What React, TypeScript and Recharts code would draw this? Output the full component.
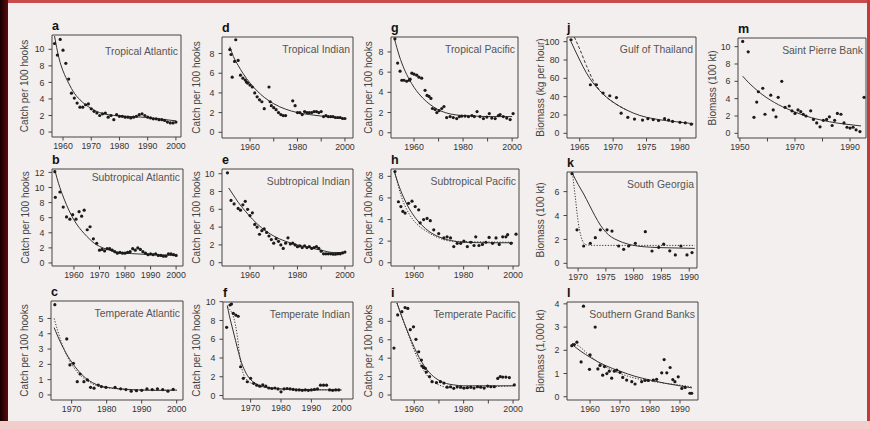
import React from 'react';
import { ComposedChart, Scatter, Line, XAxis, YAxis, ReferenceArea, Label } from 'recharts';

const FONT = '"Liberation Sans", Arial, Helvetica, sans-serif';

// ---------- data: [year, value] ----------
const tropAtlPts = [[1957,10.7],[1958,9.3],[1959,11.2],[1960,9.9],[1961,8.3],[1962,6.4],[1963,4.7],[1964,4.1],[1965,3.5],[1966,3.0],[1967,3.0],[1968,3.3],[1969,3.4],[1970,2.8],[1971,2.5],[1972,2.3],[1973,2.0],[1974,2.2],[1975,2.3],[1976,1.8],[1977,2.0],[1978,1.5],[1979,2.1],[1980,1.9],[1981,1.9],[1982,1.8],[1983,1.8],[1984,1.7],[1985,1.8],[1986,1.9],[1987,2.1],[1988,2.2],[1989,2.0],[1990,1.8],[1991,1.7],[1992,1.6],[1993,1.6],[1994,1.5],[1995,1.5],[1996,1.4],[1997,1.2],[1998,1.1],[1999,1.1],[2000,1.2]];
const tropAtlFit = [[1957,11.6],[1958,9.8],[1959,8.4],[1960,7.4],[1961,6.6],[1962,5.9],[1964,4.7],[1966,3.9],[1968,3.3],[1970,2.85],[1973,2.35],[1976,2.1],[1980,1.95],[1985,1.85],[1990,1.75],[1995,1.55],[2000,1.35]];

const tropIndPts = [[1951.5,8.4],[1952,7.9],[1952.5,5.6],[1953.5,7.2],[1954,9.4],[1955,7.3],[1956,5.8],[1957,5.5],[1958,5.3],[1958.5,5.1],[1959,5.0],[1960,4.8],[1961,4.6],[1962,4.0],[1963,3.6],[1964,3.3],[1965,3.1],[1966,2.4],[1968,4.6],[1968.5,3.1],[1969,2.7],[1970,2.5],[1971,2.3],[1972,2.0],[1973,1.8],[1974,1.7],[1975,1.7],[1978,3.2],[1979,2.7],[1980,2.0],[1981,2.0],[1982,1.8],[1983,2.1],[1984,2.0],[1985,2.0],[1986,2.0],[1987,2.1],[1988,2.1],[1989,2.0],[1990,2.1],[1991,1.6],[1992,1.7],[1993,1.6],[1994,1.6],[1995,1.6],[1996,1.5],[1997,1.5],[1998,1.5],[1999,1.4],[2000,1.4]];
const tropIndFit = [[1951.5,8.7],[1953,7.7],[1955,6.8],[1957,6.0],[1960,5.0],[1963,4.2],[1966,3.55],[1970,2.9],[1975,2.35],[1980,2.0],[1985,1.8],[1990,1.65],[1995,1.5],[2000,1.4]];

const tropPacPts = [[1952.2,9.3],[1953.3,6.9],[1954.3,6.1],[1955,5.2],[1955.9,5.2],[1957,5.1],[1958,5.2],[1958.4,5.3],[1959.1,5.9],[1960,5.8],[1961.1,5.7],[1962,5.5],[1963.1,5.4],[1964.5,4.2],[1965.3,3.7],[1966.1,3.6],[1966.9,3.4],[1967.5,2.4],[1968.6,2.3],[1969.3,2.0],[1970.2,2.2],[1971.3,2.4],[1972.2,2.6],[1973.3,1.5],[1974.7,1.6],[1976,1.5],[1977.4,1.4],[1978.5,1.6],[1979.5,1.65],[1980.8,1.65],[1982.2,1.6],[1983.6,1.7],[1984.6,1.6],[1985.7,2.1],[1986.9,1.6],[1988.3,1.4],[1989.7,1.55],[1990.7,1.9],[1991.7,1.45],[1993.1,1.4],[1994.4,1.7],[1995.1,1.8],[1996.4,1.6],[1997.8,1.45],[1999.2,1.3],[2000.4,1.9]];
const tropPacFit = [[1952,9.3],[1954,7.6],[1956,6.3],[1958,5.3],[1960,4.5],[1962,3.85],[1965,3.1],[1968,2.55],[1971,2.15],[1975,1.85],[1980,1.7],[1985,1.65],[1990,1.6],[2000,1.6]];

const gulfThaiPts = [[1963.7,102],[1966.6,53],[1967.5,53],[1968.5,44],[1969.5,41],[1970.5,39],[1971.2,22],[1972.2,17.5],[1973.2,15.5],[1974.4,14.5],[1975.2,16],[1976,15],[1976.8,14],[1977.7,16],[1978.3,14.5],[1978.9,13],[1980,12],[1980.8,11.5],[1981.7,10]];
const gulfThaiFit = [[1963.7,100],[1965,80],[1966,66],[1967,55],[1968,46.5],[1969,39.5],[1970,34],[1972,25.5],[1974,19.5],[1976,16],[1978,13.8],[1980,12.2],[1982,10.5]];
const gulfThaiFit2 = [[1964.2,105],[1965,92],[1966,74],[1967,58],[1968,47],[1969,39.5],[1970,34],[1972,25.5]];

const stPierrePts = [[1951,10.6],[1953,9.4],[1955.1,1.85],[1956.1,3.6],[1956.7,4.8],[1958.3,5.2],[1959.1,2.2],[1961.2,4.4],[1962.1,2.7],[1963.1,1.9],[1963.9,4.15],[1965.2,6.0],[1966.4,3.0],[1967.9,3.15],[1968.9,2.6],[1970,2.3],[1971.1,2.7],[1972.1,2.5],[1973,2.2],[1974,2.0],[1975.7,2.6],[1976.7,1.6],[1977.9,1.2],[1979.1,0.75],[1980.3,1.5],[1981.5,1.6],[1982.5,1.9],[1983.5,0.9],[1984.4,1.5],[1985.4,2.3],[1986.7,2.2],[1987.8,1.2],[1988.9,0.7],[1990,0.6],[1991.1,0.7],[1992.2,0.4],[1993.6,0.2],[1995.1,4.15]];
const stPierreFit = [[1951,6.6],[1953,5.9],[1955,5.3],[1958,4.5],[1961,3.85],[1964,3.3],[1967,2.85],[1970,2.45],[1973,2.1],[1976,1.8],[1980,1.5],[1985,1.2],[1990,1.0],[1994,0.85]];

const subAtlPts = [[1952.5,12.1],[1952.7,8.7],[1954.5,9.4],[1955.8,7.4],[1957.1,6.1],[1958.4,5.8],[1959.5,6.4],[1960.8,5.8],[1962,6.8],[1963,6.2],[1964,7.0],[1965.2,4.4],[1966.3,4.8],[1967.6,3.2],[1968.9,2.6],[1970,1.7],[1971,1.8],[1972,1.6],[1973,1.9],[1974,1.9],[1975,1.7],[1976,1.5],[1977,1.3],[1978,1.4],[1979,1.3],[1980,1.3],[1981,1.4],[1982,1.5],[1983,1.9],[1984,1.7],[1985,2.0],[1986,1.8],[1987,1.5],[1988,1.3],[1989,1.1],[1990,1.2],[1991,1.1],[1992,1.2],[1993,1.0],[1994,1.0],[1995,0.9],[1996,0.9],[1997,1.2],[1998,1.2],[1999,1.1],[2000,1.0]];
const subAtlFit = [[1952.5,12.3],[1954,10.5],[1956,8.6],[1958,7.0],[1960,5.7],[1962,4.7],[1964,3.9],[1966,3.2],[1968,2.6],[1970,2.2],[1973,1.8],[1976,1.5],[1980,1.3],[1985,1.2],[1990,1.1],[1995,1.05],[2000,1.0]];

const subIndPts = [[1950.5,10.1],[1952,7.0],[1953.3,6.6],[1955,6.1],[1956,5.9],[1957,6.5],[1958,6.9],[1959,6.0],[1960,5.3],[1961,5.6],[1962,4.3],[1963,4.0],[1964,3.2],[1965,3.6],[1966,3.8],[1967,3.4],[1968,3.0],[1969,2.6],[1970,2.2],[1971,2.7],[1972,2.4],[1973,2.0],[1974,1.6],[1975,2.2],[1976,2.8],[1977,2.1],[1978,2.2],[1979,2.0],[1980,1.8],[1981,1.9],[1982,1.7],[1983,1.9],[1984,1.7],[1985,1.8],[1986,1.6],[1987,1.7],[1988,1.8],[1989,1.6],[1990,1.3],[1991,1.0],[1992,1.0],[1993,1.0],[1994,1.0],[1995,0.95],[1996,0.95],[1997,1.0],[1998,1.0],[1999,1.1],[2000,1.2]];
const subIndFit = [[1951,8.4],[1953,7.6],[1955,6.8],[1958,5.8],[1961,4.9],[1965,3.9],[1970,3.0],[1975,2.4],[1980,2.0],[1985,1.7],[1990,1.4],[1995,1.15],[2000,1.15]];

const subPacPts = [[1952.2,8.45],[1953.6,5.65],[1954.6,5.2],[1955.4,4.75],[1956.3,4.6],[1957.7,5.5],[1959.1,5.7],[1960.4,5.2],[1961.8,4.9],[1962.4,3.7],[1963.8,4.0],[1965.2,4.1],[1966.5,3.9],[1967.9,3.05],[1969.9,2.7],[1972,2.3],[1973.3,2.4],[1974.7,2.3],[1976,1.5],[1977.4,1.8],[1978.8,1.8],[1980.1,2.0],[1981.5,1.5],[1982.9,1.9],[1984.2,1.6],[1984.9,2.4],[1986.2,1.6],[1987.6,1.7],[1989,1.9],[1990.3,2.35],[1991.7,1.8],[1993.1,2.3],[1994.4,1.7],[1995.8,2.4],[1997.1,2.4],[1997.8,2.6],[1999.2,1.8],[2001.2,2.65]];
const subPacFit = [[1952,8.4],[1954,7.0],[1956,5.9],[1958,5.0],[1960,4.3],[1963,3.5],[1966,2.9],[1970,2.4],[1975,2.05],[1980,1.9],[1990,1.85],[2000,1.85]];
const subPacFit2 = [[1952,8.5],[1955,6.0],[1958,4.5],[1961,3.6],[1965,2.9],[1970,2.3],[1975,2.0],[2000,1.9]];

const sGeorgiaPts = [[1968.9,7.5],[1969.8,2.8],[1971,1.45],[1972.2,1.67],[1973.1,2.15],[1974,2.8],[1975.2,2.8],[1976.1,2.7],[1977.3,1.45],[1978.2,1.17],[1979.1,1.45],[1980.3,1.67],[1982.1,2.65],[1983.3,1.03],[1984.5,1.34],[1985.4,1.6],[1986.5,1.05],[1987.5,0.7],[1988.5,1.45],[1989.6,0.7],[1990.5,0.9]];
const sGeorgiaFit = [[1969,7.5],[1970,6.6],[1971,5.8],[1972,4.9],[1973,4.0],[1974,3.2],[1975,2.6],[1976,2.2],[1977,1.95],[1978,1.75],[1980,1.5],[1983,1.35],[1986,1.3],[1991,1.25]];
const sGeorgiaFit2 = [[1969,7.5],[1969.5,5.5],[1970,3.5],[1970.5,2.3],[1971,1.7],[1971.5,1.55],[1973,1.5],[1991,1.5]];

const tempAtlPts = [[1965.2,5.9],[1968.6,3.66],[1969.5,1.96],[1970.5,2.07],[1971.6,0.87],[1972.4,1.37],[1973.5,0.87],[1974.5,0.98],[1975.4,0.5],[1976.4,0.44],[1977.6,0.65],[1978.5,0.55],[1979.8,0.5],[1982.4,0.5],[1984,0.4],[1985.5,0.35],[1987,0.25],[1988.5,0.28],[1990,0.3],[1991.5,0.4],[1993,0.35],[1994.5,0.4],[1996,0.35],[1997.5,0.25],[1999,0.37]];
const tempAtlFit = [[1965,4.4],[1966,3.85],[1967,3.35],[1968,2.9],[1969,2.5],[1970,2.15],[1972,1.55],[1974,1.1],[1976,0.8],[1978,0.6],[1980,0.5],[1985,0.38],[1990,0.32],[1995,0.3],[2000,0.32]];
const tempAtlFit2 = [[1965,5.0],[1966,4.2],[1967,3.5],[1968,2.9],[1969,2.4],[1970,2.0],[1972,1.4],[1974,1.0],[1976,0.72],[1978,0.55],[1982,0.42],[1990,0.32],[2000,0.3]];

const tempIndPts = [[1962.1,7.27],[1963.2,9.65],[1963.7,9.75],[1964.3,8.76],[1965.1,8.58],[1965.9,8.45],[1966.7,3.07],[1967.6,1.83],[1968.9,1.47],[1970,1.83],[1971,1.3],[1972,1.1],[1973,1.0],[1974,1.15],[1975,1.0],[1976,0.8],[1977,0.75],[1978,0.8],[1979,0.7],[1980,0.4],[1981,0.7],[1982,0.75],[1983,0.7],[1984,0.65],[1985,0.6],[1986,0.6],[1987,0.55],[1988,0.6],[1989,0.55],[1990,0.6],[1991,0.65],[1992,0.7],[1993,1.1],[1994,1.1],[1995,1.1],[1996,0.6],[1997,0.55],[1998,0.6],[1999,0.6]];
const tempIndFit = [[1962.3,9.6],[1963,8.5],[1964,7.2],[1965,5.9],[1966,4.6],[1967,3.5],[1968,2.7],[1969,2.1],[1970,1.7],[1972,1.2],[1974,0.95],[1977,0.8],[1980,0.7],[1990,0.6],[2000,0.6]];
const tempIndFit2 = [[1962.3,9.4],[1963.5,9.0],[1964.5,8.2],[1965.5,6.6],[1966.5,4.0],[1967.5,2.4],[1969,1.6],[1971,1.2],[1974,0.9],[1980,0.7],[2000,0.6]];

const tempPacPts = [[1951.8,5.1],[1953.3,8.7],[1955,9.05],[1956.3,9.5],[1957.4,9.4],[1958.4,7.1],[1959.7,7.4],[1960.7,6.05],[1961.8,4.7],[1962.9,3.8],[1963.1,3.15],[1963.8,3.0],[1964.5,2.9],[1964.9,2.5],[1966.2,2.0],[1967.2,1.45],[1969,1.35],[1970.6,1.45],[1972,1.3],[1973.3,0.85],[1974.7,0.9],[1976,0.73],[1977.4,0.9],[1978.8,0.85],[1980.1,0.75],[1981.5,0.8],[1982.9,0.85],[1984.2,0.75],[1985.6,0.9],[1986.9,0.85],[1988.3,0.75],[1989.7,0.98],[1991,0.9],[1992.4,0.9],[1993.8,1.8],[1994.8,2.0],[1995.8,1.95],[1997.1,1.95],[1998.5,1.9],[2000.5,1.1]];
const tempPacFit = [[1953,10.0],[1955,8.5],[1957,7.1],[1959,5.8],[1961,4.6],[1963,3.6],[1965,2.8],[1967,2.2],[1970,1.6],[1973,1.25],[1976,1.1],[1980,1.0],[1990,1.0],[2000,1.0]];
const tempPacFit2 = [[1953,10.0],[1957,7.0],[1961,4.2],[1964,2.6],[1967,1.6],[1970,1.1],[1974,0.8],[1978,0.75],[1985,0.8],[1992,0.9],[2000,1.0]];

const sGrandPts = [[1953.9,2.2],[1954.7,2.25],[1955.6,2.35],[1957,1.5],[1957.8,3.9],[1959.8,1.18],[1960,1.8],[1961.7,3.0],[1962.6,1.2],[1963.3,1.35],[1964.2,0.93],[1964.8,1.3],[1965.6,1.0],[1966.4,1.1],[1967.2,0.8],[1968.1,1.1],[1968.9,1.15],[1970,1.05],[1970.9,0.83],[1972.2,0.72],[1973.9,0.65],[1975,0.55],[1977.2,0.65],[1978.3,0.7],[1979.4,0.7],[1981.1,0.72],[1982.2,0.75],[1983.9,1.03],[1984.7,1.6],[1985.6,1.03],[1986.7,1.26],[1987.6,0.74],[1988.3,0.65],[1989.4,0.86],[1990.6,0.36],[1991.7,0.4],[1993.3,0.15],[1993.9,0.15]];
const sGrandFit = [[1954,2.25],[1957,1.95],[1960,1.7],[1965,1.35],[1970,1.1],[1975,0.88],[1980,0.72],[1985,0.58],[1990,0.47],[1994,0.38]];
const sGrandFit2 = [[1954,2.3],[1956,2.2],[1960,1.75],[1965,1.3],[1970,1.0],[1975,0.8],[1980,0.68],[1985,0.58],[1990,0.5],[1994,0.42]];

// ---------- axis ticks ----------
const ticksDecade = [1960, 1970, 1980, 1990, 2000];
const ticks70 = [1970, 1980, 1990, 2000];
const ticksJ = [1965, 1970, 1975, 1980];
const ticksK = [1970, 1975, 1980, 1985, 1990];
const ticksL = [1960, 1970, 1980, 1990];
const ticksM = [1950, 1960, 1970, 1980, 1990];
const yt = (max: number, step: number) => { const r: number[] = []; for (let v = 0; v <= max; v += step) r.push(v); return r; };

const CATCH = 'Catch per 100 hooks';

type Cfg = {
  letter: string; title: string; yLabel: string; box: [number, number, number, number];
  xDomain: [number, number]; yDomain: [number, number]; xTicks: number[]; xShow: number[]; yTicks: number[];
  pts: number[][]; fit: number[][]; fit2?: number[][]; fit2Dash?: string; labelX: number; titleDy?: number;
};

const panels: Cfg[] = [
  { letter: 'a', title: 'Tropical Atlantic', yLabel: CATCH, box: [52, 35, 181, 137], xDomain: [1956.1, 2001.8], yDomain: [-0.6, 11.73], xTicks: ticksDecade, xShow: ticksDecade, yTicks: yt(10, 2), pts: tropAtlPts, fit: tropAtlFit, labelX: 24, titleDy: 17 },
  { letter: 'd', title: 'Tropical Indian', yLabel: CATCH, box: [222, 37, 353, 138], xDomain: [1948.2, 2003.4], yDomain: [-0.58, 9.68], xTicks: ticksDecade, xShow: [1960, 1980, 2000], yTicks: yt(8, 2), pts: tropIndPts, fit: tropIndFit, labelX: 196 },
  { letter: 'g', title: 'Tropical Pacific', yLabel: CATCH, box: [391, 37, 518, 138], xDomain: [1950.6, 2002.4], yDomain: [-0.52, 9.48], xTicks: ticksDecade, xShow: [1960, 1980, 2000], yTicks: yt(8, 2), pts: tropPacPts, fit: tropPacFit, labelX: 368 },
  { letter: 'j', title: 'Gulf of Thailand', yLabel: 'Biomass (kg per hour)', box: [567, 37, 696, 138], xDomain: [1963.1, 1982.4], yDomain: [-5.1, 105.1], xTicks: ticksJ, xShow: ticksJ, yTicks: yt(100, 20), pts: gulfThaiPts, fit: gulfThaiFit, fit2: gulfThaiFit2, fit2Dash: '3 2', labelX: 540 },
  { letter: 'm', title: 'Saint Pierre Bank', yLabel: 'Biomass (100 kt)', box: [738, 38, 866, 138], xDomain: [1949.3, 1995.8], yDomain: [-0.54, 11.0], xTicks: ticksM, xShow: [1950, 1970, 1990], yTicks: yt(10, 2), pts: stPierrePts, fit: stPierreFit, labelX: 712 },
  { letter: 'b', title: 'Subtropical Atlantic', yLabel: CATCH, box: [52, 169, 183, 266], xDomain: [1951.4, 2002.7], yDomain: [-0.4, 12.45], xTicks: ticksDecade, xShow: ticksDecade, yTicks: yt(12, 2), pts: subAtlPts, fit: subAtlFit, labelX: 25, titleDy: 9 },
  { letter: 'e', title: 'Subtropical Indian', yLabel: CATCH, box: [222, 169, 353, 266], xDomain: [1948.2, 2003.4], yDomain: [-0.37, 10.53], xTicks: ticksDecade, xShow: [1960, 1980, 2000], yTicks: yt(10, 2), pts: subIndPts, fit: subIndFit, labelX: 196 },
  { letter: 'h', title: 'Subtropical Pacific', yLabel: CATCH, box: [391, 169, 519, 266], xDomain: [1950.6, 2002.4], yDomain: [-0.3, 8.68], xTicks: ticksDecade, xShow: [1960, 1980, 2000], yTicks: yt(8, 2), pts: subPacPts, fit: subPacFit, fit2: subPacFit2, labelX: 368 },
  { letter: 'k', title: 'South Georgia', yLabel: 'Biomass (100 kt)', box: [567, 172, 697, 268], xDomain: [1968.0, 1991.4], yDomain: [-0.39, 7.64], xTicks: ticksK, xShow: ticksK, yTicks: yt(6, 2), pts: sGeorgiaPts, fit: sGeorgiaFit, fit2: sGeorgiaFit2, labelX: 540 },
  { letter: 'c', title: 'Temperate Atlantic', yLabel: CATCH, box: [51, 301, 183, 400], xDomain: [1964.1, 2001.8], yDomain: [-0.33, 6.14], xTicks: ticks70, xShow: ticks70, yTicks: yt(5, 1), pts: tempAtlPts, fit: tempAtlFit, fit2: tempAtlFit2, labelX: 24 },
  { letter: 'f', title: 'Temperate Indian', yLabel: CATCH, box: [223, 302, 353, 399], xDomain: [1960.9, 2003.7], yDomain: [-0.37, 9.97], xTicks: ticks70, xShow: ticks70, yTicks: yt(10, 2), pts: tempIndPts, fit: tempIndFit, fit2: tempIndFit2, labelX: 196 },
  { letter: 'i', title: 'Temperate Pacific', yLabel: CATCH, box: [391, 302, 519, 400], xDomain: [1950.6, 2002.4], yDomain: [-0.54, 10.1], xTicks: ticksDecade, xShow: [1960, 1980, 2000], yTicks: yt(8, 2), pts: tempPacPts, fit: tempPacFit, fit2: tempPacFit2, labelX: 368 },
  { letter: 'l', title: 'Southern Grand Banks', yLabel: 'Biomass (1,000 kt)', box: [567, 302, 698, 400], xDomain: [1952.3, 1996.0], yDomain: [-0.14, 4.08], xTicks: ticksL, xShow: ticksL, yTicks: yt(4, 1), pts: sGrandPts, fit: sGrandFit, fit2: sGrandFit2, labelX: 540 },
];

const toXY = (arr: number[][]) => arr.map(([x, y]) => ({ x, y }));

const Dot = (props: any) => {
  if (props.cx == null || props.cy == null) return null;
  return <circle cx={props.cx} cy={props.cy} r={1.6} fill="#1a1a1a" />;
};

const YW = 44, TM = 4, RM = 14, XH = 22;

function Panel({ cfg }: { cfg: Cfg }) {
  const [l, t, r, b] = cfg.box;
  const pw = r - l, ph = b - t;
  const width = YW + pw + RM, height = TM + ph + XH;
  const tickStyle = { fontSize: 8.8, fill: '#333', fontFamily: FONT };
  return (
    <>
      <div style={{ position: 'absolute', left: l - YW, top: t - TM, width, height }}>
        <ComposedChart width={width} height={height} margin={{ top: TM, right: RM, bottom: 0, left: 0 }}>
          <XAxis dataKey="x" type="number" domain={cfg.xDomain} allowDataOverflow ticks={cfg.xTicks} interval={0}
            tickFormatter={(v: number) => (cfg.xShow.includes(v) ? String(v) : '')}
            height={XH} tickSize={3.5} tickMargin={2} axisLine={false} tickLine={{ stroke: '#444' }} tick={tickStyle} />
          <YAxis dataKey="y" type="number" domain={cfg.yDomain} allowDataOverflow ticks={cfg.yTicks} interval={0}
            width={YW} tickSize={3.5} tickMargin={4} axisLine={false} tickLine={{ stroke: '#444' }} tick={tickStyle}>
            <Label value={cfg.yLabel} angle={-90} position="insideLeft" offset={cfg.labelX - (l - YW)}
              style={{ textAnchor: 'middle', fontSize: 10, fill: '#444', fontFamily: FONT }} />
          </YAxis>
          <ReferenceArea x1={cfg.xDomain[0]} x2={cfg.xDomain[1]} y1={cfg.yDomain[0]} y2={cfg.yDomain[1]}
            fill="none" fillOpacity={0} stroke="#444" strokeWidth={1} ifOverflow="visible" />
          {cfg.fit2 && (
            <Line data={toXY(cfg.fit2)} dataKey="y" type="monotone" dot={false} activeDot={false} stroke="#333"
              strokeWidth={1} strokeDasharray={cfg.fit2Dash || '1.2 1.6'} isAnimationActive={false} />
          )}
          <Line data={toXY(cfg.fit)} dataKey="y" type="monotone" dot={false} activeDot={false} stroke="#333"
            strokeWidth={1} isAnimationActive={false} />
          <Scatter data={toXY(cfg.pts)} dataKey="y" shape={Dot} isAnimationActive={false} />
        </ComposedChart>
      </div>
      <div style={{ position: 'absolute', left: l, top: t - 16, fontFamily: FONT, fontWeight: 'bold', fontSize: 12.5, lineHeight: '14px', color: '#111' }}>
        {cfg.letter}
      </div>
      <div style={{ position: 'absolute', right: 870 - (r - 3), top: t + (cfg.titleDy ?? 13) - 7, fontFamily: FONT, fontSize: 10.4, lineHeight: '14px', color: '#555', whiteSpace: 'nowrap' }}>
        {cfg.title}
      </div>
    </>
  );
}

export default function App() {
  return (
    <div style={{ position: 'absolute', left: 0, top: 0, width: 870, height: 429, background: '#f3efee', overflow: 'hidden', fontFamily: FONT }}>
      <div style={{ position: 'absolute', left: 0, top: 0, width: 870, height: 3, background: '#c94c4c' }} />
      <div style={{ position: 'absolute', left: 0, top: 0, width: 8, height: 429, background: 'linear-gradient(to right, #140000, #5e0a0a)' }} />
      <div style={{ position: 'absolute', right: 0, top: 0, width: 3, height: 429, background: '#c23a3a' }} />
      <div style={{ position: 'absolute', left: 0, bottom: 0, width: 870, height: 8, background: '#f3cccc' }} />
      {panels.map((p) => (
        <Panel key={p.letter} cfg={p} />
      ))}
    </div>
  );
}
